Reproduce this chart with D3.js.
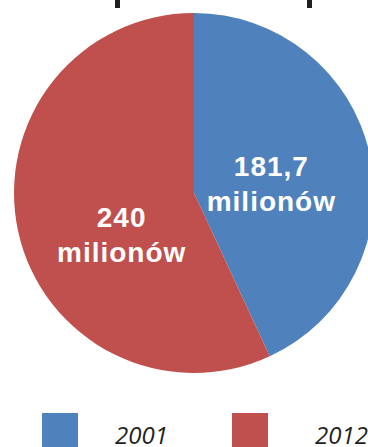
<!DOCTYPE html>
<html>
<head>
<meta charset="utf-8">
<script src="https://cdn.jsdelivr.net/npm/d3@7"></script>
<style>
  body { margin: 0; background: #fff; }
  svg { display: block; }
</style>
</head>
<body>
<div id="chart"></div>
<script>
// data
const years = ["2001", "2012"];
const values = [181.7, 240];
const labels = ["181,7", "240"];
const unit = "milionów";
const colors = ["#4F81BD", "#C0504D"];

const width = 368, height = 447;
const cx = 194, cy = 193, radius = 180;

// small label nudges from the slice centroid (style, not data)
const labelNudge = [[0, 4], [5, 21]];
// legend layout
const legendRectX = [42, 232],
    legendTextX = [115, 315];

const svg = d3.select("#chart").append("svg")
    .attr("width", width)
    .attr("height", height);

// leftover descenders of the cut-off title
svg.selectAll(".stub")
    .data([115, 307])
    .enter()
    .append("rect")
        .attr("class", "stub")
        .attr("x", d => d)
        .attr("y", 0)
        .attr("width", 5)
        .attr("height", 8)
        .attr("fill", "#231f20");

const data = years.map((y, i) => ({ year: y, value: values[i], label: labels[i], color: colors[i] }));

const pie = d3.pie()
    .sort(null)
    .value(d => d.value);

const arc = d3.arc()
    .innerRadius(0)
    .outerRadius(radius);

const g = svg.append("g")
    .attr("transform", `translate(${cx},${cy})`);

const arcs = pie(data);

g.selectAll(".slice")
    .data(arcs)
    .enter()
    .append("path")
        .attr("class", "slice")
        .attr("d", arc)
        .attr("fill", d => d.data.color);

// slice labels, placed near each slice's centroid
const labelArc = d3.arc()
    .innerRadius(radius * 0.44)
    .outerRadius(radius * 0.44);

const lab = g.selectAll(".lab")
    .data(arcs)
    .enter()
    .append("text")
        .attr("class", "lab")
        .attr("transform", (d, i) => {
            const [x, y] = labelArc.centroid(d);
            return `translate(${x + labelNudge[i][0]},${y + labelNudge[i][1]})`;
        })
        .attr("text-anchor", "middle")
        .attr("fill", "#fff")
        .attr("font-family", "Liberation Sans, Arial, sans-serif")
        .attr("font-weight", "bold")
        .attr("font-size", 28)
        .attr("letter-spacing", 1);

lab.append("tspan")
    .attr("x", 0)
    .attr("dy", "-0.15em")
    .text(d => d.data.label);

lab.append("tspan")
    .attr("x", 0)
    .attr("dy", "1.25em")
    .text(unit);

// legend
const legend = svg.selectAll(".legend")
    .data(data)
    .enter()
    .append("g")
        .attr("class", "legend");

legend.append("rect")
    .attr("x", (d, i) => legendRectX[i])
    .attr("y", 413)
    .attr("width", 36)
    .attr("height", 36)
    .attr("fill", d => d.color);

legend.append("text")
    .attr("x", (d, i) => legendTextX[i])
    .attr("y", 444)
    .attr("font-family", "Open Sans, sans-serif")
    .attr("font-style", "italic")
    .attr("font-size", 24)
    .attr("fill", "#231f20")
    .text(d => d.year);
</script>
</body>
</html>
